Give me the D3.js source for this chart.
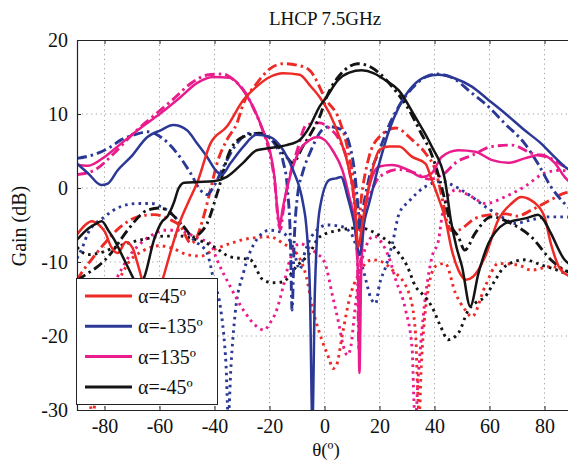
<!DOCTYPE html>
<html>
<head>
<meta charset="utf-8">
<script src="https://cdn.jsdelivr.net/npm/d3@7"></script>
<style>
  body { margin: 0; background: #fff; }
  text { font-family: "Liberation Serif", "Times New Roman", serif; }
</style>
</head>
<body>
<div id="chart"></div>
<script>
// tick labels and legend
const thetaTicks = [-80, -60, -40, -20, 0, 20, 40, 60, 80];
const gainTicks = [-30, -20, -10, 0, 10, 20];
const legendLabels = ["α=45º", "α=-135º", "α=135º", "α=-45º"];

// [theta (deg), gain (dB)]
// alpha = 45 (red)
const red45Solid = [[-90,-6.3],[-87,-5],[-84.7,-4.5],[-82,-5],[-79.9,-5.9],[-77.5,-8],[-75.2,-8.8],[-72.2,-7.3],[-69.8,-8.1],[-68,-10.2],[-65,-14],[-62,-15.5],[-59,-12.5],[-55.8,-8.4],[-52.5,-4.5],[-49,-1.5],[-46.3,0.7],[-41.5,6],[-35.5,8.3],[-29.5,11.9],[-24.7,13.7],[-19.9,15],[-15,15.5],[-9,15.3],[-5.4,13.9],[-1.8,12.3],[1.8,10.1],[5.4,6.9],[9,2.4],[11,-2],[12.3,-8],[13.5,-5.5],[15,-2],[17.4,2.4],[19.9,5.1],[23.5,5.6],[27.1,5.6],[31.9,4.2],[36.7,3.3],[39,1.1],[41.5,-1.4],[43.9,-4.1],[46.3,-8.4],[48.7,-11.1],[51.5,-12.4],[54,-12],[58.4,-9.3],[63.2,-4.3],[68,-2.1],[71.5,-1.2],[76.4,-2],[80,-3.9],[82.3,-7.5],[86,-11.1],[90,-12]];
const red45DashDot = [[-90,-12.5],[-88.4,-11.5],[-84.8,-9.7],[-80,-7.5],[-74,-5.2],[-68,-3.9],[-62,-3.6],[-56,-4.3],[-52.3,-5.2],[-48.5,-7.5],[-46.4,-6.6],[-44,-3.9],[-41.5,-0.3],[-39.1,3.3],[-35.5,6.5],[-31.9,8.7],[-29.5,11.4],[-24.7,14.1],[-19.9,16.1],[-15,16.8],[-10,16.6],[-5.4,15.9],[0.6,11.9],[5.4,9.2],[9,4.2],[10.8,0],[12,-6],[13.5,-1],[16.2,4.2],[19.9,6.9],[25.9,8.1],[31.9,6.5],[36.7,4.7],[40.3,2.4],[42.7,-1.2],[44.5,-4.5],[46.5,-5.8],[48.7,-5.7],[54.8,-4.1],[60.8,-3.6],[66,-3.5],[70,-3.8],[75.2,-3],[82.3,-1.6],[87.3,-0.7],[90,-0.5]];
const red45Dotted = [[-90,-14],[-87,-20],[-84.5,-30.5],[-81,-22],[-77,-15],[-72,-10.5],[-66,-8.5],[-60,-7.8],[-55,-8.2],[-50,-9],[-45,-9.2],[-40,-8.3],[-34.3,-7.5],[-27.1,-6.8],[-19.9,-6.6],[-15,-7.5],[-10.2,-8.8],[-6.6,-12],[-4.2,-16.5],[-1.8,-19.6],[1.8,-23.2],[3,-24.4],[4.2,-24.1],[6.6,-19.6],[9,-15.1],[12.6,-11.5],[17.4,-9.7],[21,-10],[24.7,-11.1],[30.7,-14.2],[33.1,-19.6],[33.8,-26.4],[34.4,-31],[35.2,-24],[36.7,-16.5],[40.3,-10.6],[43.9,-10.2],[47.6,-14.2],[51.2,-16.5],[53.6,-17.4],[58.4,-13.3],[63.2,-10.2],[70.4,-10.4],[75.2,-11.1],[82.3,-10.6],[87.3,-11.1],[90,-11.5]];

// alpha = -135 (blue)
const blue135nSolid = [[-90,3.3],[-86,2],[-81.2,0.4],[-78.8,0.6],[-75.2,2.4],[-70.4,4.2],[-64.4,6.9],[-59.6,7.8],[-55,8.5],[-50,7.8],[-46.3,6],[-42.7,4.2],[-39.1,2.2],[-37.3,1.8],[-34.3,3.3],[-29.5,5.6],[-24.7,7.2],[-19.9,6.9],[-15,5.1],[-11.4,2.4],[-7.8,-2.1],[-6.6,-5.2],[-5.3,-14],[-4.4,-32],[-3.5,-14],[-1.8,-3],[1.8,1.1],[4.2,1.3],[6,1.5],[8.4,-1.2],[10.8,-4.8],[12.8,-9],[14.5,-4.5],[16.2,-2.1],[19.9,3.3],[23.5,7.8],[27.1,11],[31.9,13.7],[36.7,15],[41.5,15.3],[47.5,14.8],[53.6,13.7],[59.6,11.9],[65.6,10.1],[72.8,7.8],[78.8,6],[83.6,4.2],[87.3,2.9],[90,2.2]];
const blue135nDashDot = [[-90,4],[-86,4.3],[-82.4,4.7],[-78,5.5],[-74,6.5],[-69,7.2],[-64.4,7.6],[-59.6,6.9],[-53.6,4.7],[-48.7,2],[-45.1,-0.3],[-42.7,-0.9],[-40.3,0.2],[-36.7,2.9],[-31.9,6],[-27.1,7.4],[-22.3,7.2],[-17.5,5.6],[-15,3.5],[-13.5,0],[-12.4,-7],[-11.8,-16.5],[-11,-7],[-9.8,-1],[-8,2],[-5,5],[-1,7.8],[1.8,8.3],[6.6,7.8],[9,6],[11,2],[12.3,-3],[13,-6],[14,-3],[16,1],[19.9,5],[23.5,8.5],[27,11],[31.9,13.5],[36.7,15],[41,15.4],[47,14.8],[53,13],[58.4,11.4],[65.6,8.7],[72.8,6],[77.6,3.3],[82.3,0.2],[87.3,-2.1],[90,-3]];
const blue135nDotted = [[-90,-9.5],[-88,-8],[-86,-6.1],[-80,-3.9],[-74,-2.5],[-68,-2.1],[-62.9,-2.1],[-59.6,-2.5],[-55.8,-3.4],[-52.3,-4.8],[-47.6,-7],[-42.7,-8.8],[-40.3,-12.4],[-37.9,-16],[-36.7,-19.6],[-35.8,-24],[-35,-31],[-34,-24],[-32.5,-17],[-29.5,-11.5],[-24.7,-7],[-19.9,-5.7],[-15,-6.1],[-11.5,-8],[-9,-11],[-7,-8.5],[-3.6,-6],[1.2,-5],[6,-5.2],[9.6,-6.1],[12,-8.4],[14.4,-11.5],[17,-15],[18.6,-15.6],[20,-13],[22.3,-10.6],[24.7,-7.5],[27.1,-3.5],[30.7,-1.8],[36.7,0.2],[42.7,0.9],[47.5,0.2],[53.6,-1.2],[58.4,-2.5],[64.4,-3.9],[69.2,-4.8],[75.2,-4.3],[81.2,-3.9],[87.3,-3.9],[90,-4]];

// alpha = 135 (magenta)
const mag135Solid = [[-90,3.1],[-86,3],[-80,4.2],[-74,6],[-68,7.8],[-59.6,10.1],[-52.3,12.3],[-46.3,14.2],[-40.4,15],[-34.3,14.9],[-29.6,13.2],[-26,11],[-22.4,7.8],[-19.9,5.1],[-18.2,1.5],[-17,-3.5],[-16.3,-5.2],[-15.3,-3],[-13.8,-0.3],[-10.2,4.2],[-5.4,6.5],[-2.5,6.9],[0,6.5],[2.9,5.1],[6.5,2.4],[9,-1.2],[11,-5],[12.2,-12],[12.7,-25],[13.3,-12],[14.5,-4],[16.5,0.5],[19.9,2.9],[24.5,3.1],[30.7,2.4],[35.4,1.5],[39,2],[42.6,4.2],[48.7,5.1],[54.8,4.9],[60.7,3.8],[66.8,3.4],[72.8,4],[78.8,4.5],[83.7,3.4],[87.3,1.5],[90,0.5]];
const mag135DashDot = [[-90,1.8],[-83.7,2.4],[-76.5,4.7],[-70,7.2],[-62,9.8],[-55,12],[-48,14.3],[-42,15.3],[-37,15.4],[-33,14.6],[-29,13],[-25.5,10.5],[-22,7.3],[-19.8,4.5],[-18,0.5],[-16.8,-4.5],[-16,-5.6],[-15,-3],[-13,1],[-10,5],[-6.6,8.5],[-1.8,8.8],[2,8],[5.4,6.5],[9,2.4],[11,-3],[12,-10],[12.5,-22],[13.2,-10],[14.5,-3],[17,-0.5],[20,1.5],[27,2.5],[33,2],[38,1.2],[43,1.8],[48,3.5],[53.6,4.4],[60.8,5.6],[68,5.8],[75.2,4.7],[82.3,4],[87.3,2.9],[90,2.5]];
const mag135Dotted = [[-90,-14],[-86,-16.5],[-82,-17],[-78,-14],[-74,-11.1],[-71,-9.2],[-68,-7.9],[-62.9,-6.4],[-58.2,-5.7],[-53.4,-5.7],[-50,-6.1],[-46,-6.8],[-41.5,-7.5],[-39.1,-9.7],[-34.3,-13.3],[-29.5,-16.5],[-24.7,-18.7],[-22,-19.2],[-19.9,-18.3],[-17.4,-16.5],[-15,-13.3],[-12.6,-9.7],[-9,-7.5],[-6,-8],[-3,-8.8],[0,-10],[3,-14.7],[5.4,-18.7],[6.6,-21],[8.4,-22.6],[9.6,-21.4],[10.8,-17.4],[12.5,-12],[15,-8],[18,-6.5],[21,-7.5],[24,-10],[25.9,-12.4],[29.5,-16.5],[31.9,-21.9],[32.5,-28.6],[33,-32],[34,-26],[36,-17],[39.1,-9.3],[41.5,-7],[42.7,-3.9],[45,-1],[47.6,-0.3],[53.6,-1.2],[58.4,-2.1],[65.6,-1.2],[72.8,0.2],[80,2],[86,2.4],[90,2]];

// alpha = -45 (black)
const black45nSolid = [[-90,-7],[-86,-5.5],[-83,-4.8],[-81,-4.5],[-78.5,-5.8],[-76.4,-7],[-74,-8.8],[-71.6,-10.6],[-69,-12.5],[-67,-13],[-65.5,-12],[-62,-7],[-59,-4.5],[-57.2,-3.9],[-54.8,-2],[-53,0],[-51,0.7],[-46,0.8],[-40.4,0.9],[-35.5,1.5],[-29.6,3.4],[-24.7,5.1],[-19.9,5.4],[-13.8,5.8],[-9,6.5],[-5.4,8.3],[-1.8,11],[0.6,12.2],[5,14.6],[9,15.6],[13.5,15.9],[18,15.5],[22,14.6],[27,13.2],[33,9.6],[39,5.6],[43.8,1.1],[46,-4.5],[48,-8],[50,-10.6],[53,-16],[56,-11.5],[59.6,-7.5],[62,-6],[65.6,-4.8],[68,-4.5],[70.4,-4.3],[74,-4],[77.6,-3.6],[80,-4.5],[82.3,-6.1],[87.3,-9.7],[90,-10.5]];
const black45nDashDot = [[-90,-12.5],[-86,-11.5],[-82.4,-10.6],[-77.6,-8.8],[-71.6,-5.7],[-64.4,-3],[-59.6,-2.7],[-56,-3.4],[-51.2,-5.2],[-47.6,-6.6],[-45,-6],[-42.7,-4.8],[-39,-0.7],[-34.3,5.1],[-29.6,6.9],[-23.5,7.4],[-18.8,6.5],[-13.8,4.2],[-11.5,3.4],[-7.9,5.6],[-4.3,7.8],[-1.8,9.6],[1,12.5],[5,15],[9,16.4],[12,16.8],[16,16.5],[20,15.5],[25,13.5],[30,11],[35,7.5],[39,4.5],[42,1],[44,-2],[46,-5],[48.7,-6.6],[51,-8.4],[54.8,-6.1],[60.7,-3.9],[67.9,-4.8],[75.2,-6.6],[82.3,-9.7],[87.3,-11.1],[90,-11.5]];
const black45nDotted = [[-90,-8],[-86,-9],[-82,-8.8],[-76,-8],[-70,-7.3],[-64,-6.8],[-58,-6.5],[-52,-6.5],[-48.6,-6.8],[-44,-7.3],[-40.4,-7.9],[-34.3,-9.3],[-27,-9.7],[-22.4,-12.4],[-18.8,-12.8],[-15.2,-12.7],[-10.2,-10.6],[-5.4,-8.8],[-1.8,-6.6],[5.4,-5.7],[12.6,-5.4],[19.9,-6.4],[24,-7.5],[27,-8.8],[30,-10.5],[33.1,-13.3],[36,-14.5],[39,-16],[42,-18.5],[45,-20.5],[48.7,-19.6],[52.3,-16.5],[55,-15.5],[58.4,-14.7],[62,-12.5],[65.6,-10.6],[72.8,-9.7],[78.8,-10.4],[86,-11.3],[90,-12]];

const colors = ["#ee2a26", "#2b3896", "#ea1b8c", "#141414"];

const width = 568, height = 463;
const svg = d3.select("#chart").append("svg")
  .attr("width", width)
  .attr("height", height);

// theta axis runs past the right edge of the window, as in the original
const x = d3.scaleLinear().domain([-90, 90]).range([77, 572]);
const y = d3.scaleLinear().domain([-30, 20]).range([410, 40]);

// dotted grid
const grid = svg.append("g").attr("stroke", "#a0a0a0").attr("stroke-width", 1).attr("stroke-dasharray", "1.2,3.5");
grid.selectAll("line.v").data(thetaTicks).enter().append("line")
  .attr("x1", d => x(d)).attr("x2", d => x(d))
  .attr("y1", y(20)).attr("y2", y(-30));
grid.selectAll("line.h").data(gainTicks.slice(1, -1)).enter().append("line")
  .attr("x1", x(-90)).attr("x2", x(90))
  .attr("y1", d => y(d)).attr("y2", d => y(d));

// clip the curves to the plot box
svg.append("clipPath").attr("id", "plotclip")
  .append("rect").attr("x", x(-90)).attr("y", y(20))
  .attr("width", x(90) - x(-90)).attr("height", y(-30) - y(20));

const line = d3.line()
  .x(d => x(d[0]))
  .y(d => y(d[1]))
  .curve(d3.curveMonotoneX);

const series = [
  { data: red45Dotted, c: 0, style: "dot" },
  { data: blue135nDotted, c: 1, style: "dot" },
  { data: mag135Dotted, c: 2, style: "dot" },
  { data: black45nDotted, c: 3, style: "dot" },
  { data: red45DashDot, c: 0, style: "dashdot" },
  { data: blue135nDashDot, c: 1, style: "dashdot" },
  { data: mag135DashDot, c: 2, style: "dashdot" },
  { data: black45nDashDot, c: 3, style: "dashdot" },
  { data: mag135Solid, c: 2, style: "solid" },
  { data: blue135nSolid, c: 1, style: "solid" },
  { data: red45Solid, c: 0, style: "solid" },
  { data: black45nSolid, c: 3, style: "solid" }
];
const dash = { solid: null, dashdot: "10,4,2.5,4", dot: "2.6,4.2" };
const sw = { solid: 2.5, dashdot: 2.9, dot: 2.9 };

svg.append("g").attr("clip-path", "url(#plotclip)")
  .selectAll("path").data(series).enter().append("path")
  .attr("d", d => line(d.data))
  .attr("fill", "none")
  .attr("stroke", d => colors[d.c])
  .attr("stroke-width", d => sw[d.style])
  .attr("stroke-dasharray", d => dash[d.style])
  .attr("stroke-linejoin", "round");

// axes, ticks inside like matlab
const xAxis = svg.append("g")
  .attr("transform", "translate(0," + y(-30) + ")")
  .call(d3.axisBottom(x).tickValues(thetaTicks).tickSizeInner(-4).tickSizeOuter(0).tickPadding(9));
const xTop = svg.append("g")
  .attr("transform", "translate(0," + y(20) + ")")
  .call(d3.axisTop(x).tickValues(thetaTicks).tickSizeInner(-4).tickSizeOuter(0).tickFormat(""));
const yAxis = svg.append("g")
  .attr("transform", "translate(" + x(-90) + ",0)")
  .call(d3.axisLeft(y).tickValues(gainTicks).tickSizeInner(-4).tickSizeOuter(0).tickPadding(9));

[xAxis, xTop, yAxis].forEach(g => {
  g.select(".domain").attr("stroke", "#222").attr("stroke-width", 1.2);
  g.selectAll(".tick line").attr("stroke", "#222");
  g.selectAll("text").attr("font-size", 20).attr("fill", "#111")
    .style("font-family", '"Liberation Serif", serif');
});
// plain hyphen for minus, as in the original
xAxis.selectAll(".tick text").text(d => d < 0 ? "-" + Math.abs(d) : d);
yAxis.selectAll(".tick text").text(d => d < 0 ? "-" + Math.abs(d) : d);

// titles
svg.append("text").attr("x", 325).attr("y", 25).attr("text-anchor", "middle")
  .attr("font-size", 19).attr("fill", "#111").text("LHCP 7.5GHz");
svg.append("text").attr("x", 326).attr("y", 456).attr("text-anchor", "middle")
  .attr("font-size", 19).attr("fill", "#111").text("θ(º)");
svg.append("text").attr("transform", "translate(26,226) rotate(-90)")
  .attr("text-anchor", "middle").attr("font-size", 20).attr("fill", "#111").text("Gain (dB)");

// legend
const legend = svg.append("g");
legend.append("rect").attr("x", 76.5).attr("y", 278.5).attr("width", 141).attr("height", 126)
  .attr("fill", "#fff").attr("stroke", "#222").attr("stroke-width", 1);
const items = legend.selectAll("g.item").data(legendLabels).enter().append("g")
  .attr("transform", (d, i) => "translate(0," + (296 + i * 30.3) + ")");
items.append("line").attr("x1", 85).attr("x2", 132).attr("y1", 0).attr("y2", 0)
  .attr("stroke", (d, i) => colors[i]).attr("stroke-width", 3);
items.append("text").attr("x", 138).attr("y", 7).attr("font-size", 20).attr("fill", "#111")
  .text(d => d);
</script>
</body>
</html>
